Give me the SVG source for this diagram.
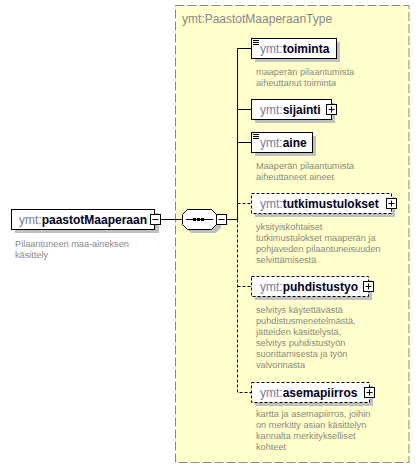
<svg xmlns="http://www.w3.org/2000/svg" width="420" height="469" viewBox="0 0 420 469">
<defs>
<style>
.box{fill:#fff;stroke:#000;stroke-width:1}
.dbox{fill:#fff;stroke:#000;stroke-width:1;stroke-dasharray:3,2}
.shadow{fill:#c0c0c0}
.name{font-family:"Liberation Sans",Arial,sans-serif;font-size:12px}
.pre{fill:#7b7b9b}
.nm{fill:#000020;font-weight:bold}
.desc{font-family:"Liberation Sans",Arial,sans-serif;font-size:9.2px;fill:#8a8a80}
.ln{stroke:#000;stroke-width:1;fill:none}
.dln{stroke:#000;stroke-width:1;fill:none;stroke-dasharray:3,2}
.ico{fill:#fff;stroke:#000;stroke-width:1}
</style>
<g id="plus"><rect class="ico" x="-5" y="-5" width="10" height="10"/><path class="ln" d="M-3,0H3M0,-3V3"/></g>
<g id="minus"><rect class="ico" x="-5" y="-5" width="10" height="10"/><path class="ln" d="M-3,0H3"/></g>
<g id="lines"><path class="ln" d="M0,0H6M0,2H6M0,4H6"/></g>
</defs>

<g id="container">
<rect x="175.5" y="5.5" width="233.5" height="457" fill="#ffffcc" stroke="#888" stroke-width="1" stroke-dasharray="9,3"/>
<text x="182" y="23" font-family="Liberation Sans,Arial,sans-serif" font-size="12" fill="#888">ymt:PaastotMaaperaanType</text>
</g>

<g id="connectors">
<path class="ln" d="M160,219.5H182"/>
<path class="ln" d="M227,219.5H237.5V48.5H251M237.5,109.5H251M237.5,142.5H251"/>
<path class="dln" d="M237.5,219.5V392.5H251M237.5,203.5H251M237.5,286.5H251"/>
</g>

<g id="paastotMaaperaan">
<rect class="shadow" x="15" y="213" width="144" height="20"/>
<rect class="box" x="11.5" y="209.5" width="143" height="20"/>
<text class="name" x="19" y="223.5"><tspan class="pre">ymt:</tspan><tspan class="nm">paastotMaaperaan</tspan></text>
<use href="#minus" x="155.5" y="219.5"/>
<text class="desc" x="15" y="247">Pilaantuneen maa-aineksen</text>
<text class="desc" x="15" y="257.5">käsittely</text>
</g>

<g id="sequence">
<polygon class="shadow" points="191,213 216,213 221,218 221,228 216,233 191,233 186,228 186,218"/>
<polygon class="box" points="187.5,209.5 211.5,209.5 216.5,214.5 216.5,224.5 211.5,229.5 187.5,229.5 182.5,224.5 182.5,214.5"/>
<path class="ln" d="M186,219.5H213"/>
<rect x="193" y="218" width="3" height="3" fill="#000"/>
<rect x="197" y="218" width="3" height="3" fill="#000"/>
<rect x="201" y="218" width="3" height="3" fill="#000"/>
<use href="#minus" x="221.5" y="219.5"/>
</g>

<g id="toiminta">
<rect class="shadow" x="255" y="42" width="85" height="20"/>
<rect class="box" x="251.5" y="38.5" width="85" height="20"/>
<use href="#lines" x="253" y="40.5"/>
<text class="name" x="260" y="53"><tspan class="pre">ymt:</tspan><tspan class="nm">toiminta</tspan></text>
<text class="desc" x="256" y="75">maaperän pilaantumista</text>
<text class="desc" x="256" y="85.5">aiheuttanut toiminta</text>
</g>

<g id="sijainti">
<rect class="shadow" x="255" y="103" width="80" height="20"/>
<rect class="box" x="251.5" y="99.5" width="80" height="20"/>
<text class="name" x="260" y="114"><tspan class="pre">ymt:</tspan><tspan class="nm">sijainti</tspan></text>
<use href="#plus" x="331.5" y="109.5"/>
</g>

<g id="aine">
<rect class="shadow" x="255" y="136" width="61" height="20"/>
<rect class="box" x="251.5" y="132.5" width="61" height="20"/>
<use href="#lines" x="253" y="134.5"/>
<text class="name" x="260" y="147"><tspan class="pre">ymt:</tspan><tspan class="nm">aine</tspan></text>
<text class="desc" x="256" y="169">Maaperän pilaantumista</text>
<text class="desc" x="256" y="179.5">aiheuttaneet aineet</text>
</g>

<g id="tutkimustulokset">
<rect class="shadow" x="255" y="197" width="140" height="20"/>
<rect class="dbox" x="251.5" y="193.5" width="140" height="20"/>
<text class="name" x="260" y="208"><tspan class="pre">ymt:</tspan><tspan class="nm">tutkimustulokset</tspan></text>
<use href="#plus" x="391.5" y="203.5"/>
<text class="desc" x="256" y="229.5">yksityiskohtaiset</text>
<text class="desc" x="256" y="240.5">tutkimustulokset maaperän ja</text>
<text class="desc" x="256" y="251.5">pohjaveden pilaantuneisuuden</text>
<text class="desc" x="256" y="262.5">selvittämisestä</text>
</g>

<g id="puhdistustyo">
<rect class="shadow" x="255" y="280" width="117" height="20"/>
<rect class="dbox" x="251.5" y="276.5" width="117" height="20"/>
<text class="name" x="260" y="291"><tspan class="pre">ymt:</tspan><tspan class="nm">puhdistustyo</tspan></text>
<use href="#plus" x="368.5" y="286.5"/>
<text class="desc" x="256" y="312.5">selvitys käytettävästä</text>
<text class="desc" x="256" y="323.5">puhdistusmenetelmästä,</text>
<text class="desc" x="256" y="334.5">jätteiden käsittelystä,</text>
<text class="desc" x="256" y="345.5">selvitys puhdistustyön</text>
<text class="desc" x="256" y="356.5">suorittamisesta ja työn</text>
<text class="desc" x="256" y="367.5">valvonnasta</text>
</g>

<g id="asemapiirros">
<rect class="shadow" x="255" y="386" width="118" height="20"/>
<rect class="dbox" x="251.5" y="382.5" width="118" height="20"/>
<text class="name" x="260" y="397"><tspan class="pre">ymt:</tspan><tspan class="nm">asemapiirros</tspan></text>
<use href="#plus" x="369.5" y="392.5"/>
<text class="desc" x="256" y="416.5">kartta ja asemapiirros, joihin</text>
<text class="desc" x="256" y="427.5">on merkitty asian käsittelyn</text>
<text class="desc" x="256" y="438.5">kannalta merkitykselliset</text>
<text class="desc" x="256" y="449.5">kohteet</text>
</g>
</svg>
